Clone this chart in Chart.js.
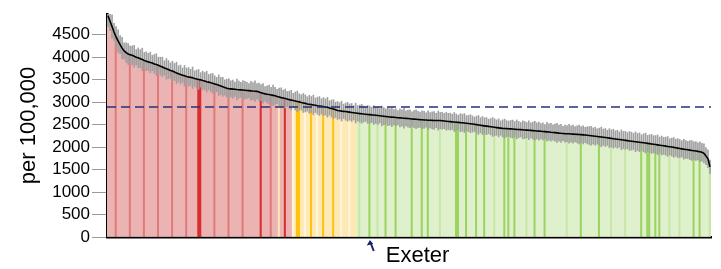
<!DOCTYPE html>
<html>
<head>
<meta charset="utf-8">
<script src="https://cdn.jsdelivr.net/npm/chart.js@4.4.0/dist/chart.umd.min.js"></script>
<style>
    body { margin: 0; background: #fff; }
</style>
</head>
<body>
<canvas id="taxas" width="721" height="269"></canvas>
<script>
// Taxas por 100.000, ordenadas da maior para a menor
const rates = [
    4920, 4800, 4680, 4560, 4450, 4360, 4280, 4200, 4140, 4100,
    4070, 4055, 4040, 4020, 4000, 3985, 3965, 3950, 3925, 3910,
    3895, 3880, 3870, 3850, 3835, 3820, 3800, 3780, 3760, 3740,
    3725, 3705, 3690, 3670, 3650, 3630, 3615, 3600, 3585, 3570,
    3560, 3550, 3540, 3525, 3515, 3505, 3495, 3480, 3470, 3455,
    3445, 3430, 3420, 3405, 3390, 3375, 3360, 3340, 3325, 3310,
    3300, 3295, 3290, 3285, 3280, 3276, 3272, 3268, 3264, 3260,
    3255, 3250, 3246, 3243, 3240, 3225, 3210, 3195, 3183, 3175,
    3170, 3160, 3150, 3140, 3125, 3112, 3100, 3090, 3080, 3068,
    3055, 3045, 3035, 3025, 3015, 3005, 2992, 2982, 2972, 2960,
    2952, 2945, 2937, 2930, 2920, 2913, 2906, 2900, 2893, 2885,
    2870, 2858, 2845, 2830, 2815, 2808, 2800, 2795, 2790, 2784,
    2778, 2770, 2763, 2757, 2751, 2745, 2740, 2735, 2731, 2726,
    2721, 2716, 2712, 2707, 2702, 2697, 2692, 2686, 2680, 2675,
    2670, 2666, 2662, 2658, 2654, 2650, 2646, 2642, 2638, 2634,
    2630, 2626, 2622, 2618, 2614, 2610, 2607, 2604, 2601, 2598,
    2596, 2594, 2592, 2591, 2590, 2590, 2586, 2580, 2575, 2570,
    2566, 2561, 2557, 2553, 2549, 2544, 2540, 2535, 2530, 2525,
    2520, 2513, 2506, 2499, 2492, 2485, 2478, 2472, 2466, 2460,
    2453, 2446, 2440, 2433, 2427, 2422, 2416, 2412, 2410, 2407,
    2404, 2401, 2398, 2394, 2391, 2388, 2384, 2380, 2377, 2374,
    2371, 2367, 2363, 2359, 2355, 2351, 2347, 2343, 2339, 2335,
    2330, 2326, 2322, 2316, 2310, 2306, 2303, 2300, 2298, 2295,
    2292, 2289, 2286, 2283, 2280, 2276, 2272, 2268, 2262, 2257,
    2252, 2247, 2241, 2236, 2231, 2225, 2219, 2213, 2206, 2199,
    2193, 2187, 2181, 2175, 2168, 2162, 2156, 2150, 2143, 2137,
    2131, 2125, 2119, 2113, 2107, 2101, 2095, 2089, 2082, 2076,
    2070, 2063, 2056, 2049, 2042, 2035, 2028, 2021, 2014, 2007,
    2000, 1993, 1985, 1977, 1968, 1960, 1953, 1946, 1939, 1932,
    1925, 1918, 1911, 1904, 1896, 1885, 1860, 1800, 1740, 1560
];

// Meia largura do intervalo de confiança de cada barra
const ciHalf = [
    240, 210, 260, 190, 230, 250, 200, 240, 180, 220,
    230, 190, 210, 240, 170, 220, 200, 250, 180, 210,
    190, 230, 170, 210, 240, 180, 200, 220, 160, 230,
    200, 170, 220, 190, 240, 180, 210, 160, 230, 190,
    210, 180, 240, 170, 200, 220, 160, 210, 190, 230,
    170, 200, 220, 180, 160, 230, 190, 210, 170, 200,
    220, 180, 200, 160, 230, 190, 170, 210, 200, 180,
    160, 210, 190, 230, 170, 200, 180, 220, 160, 190,
    210, 170, 230, 190, 160, 200, 220, 180, 210, 170,
    190, 220, 160, 200, 230, 180, 170, 210, 190, 160,
    200, 180, 220, 160, 190, 210, 170, 200, 180, 220,
    160, 190, 210, 170, 200, 180, 220, 160, 190, 210,
    180, 200, 160, 220, 170, 190, 210, 180, 160, 200,
    190, 170, 210, 180, 200, 160, 220, 190, 170, 200,
    180, 210, 170, 190, 160, 200, 180, 220, 170, 190,
    200, 160, 190, 210, 180, 170, 200, 190, 160, 210,
    170, 190, 200, 160, 210, 180, 190, 170, 200, 180,
    190, 170, 210, 180, 160, 200, 190, 210, 170, 180,
    200, 180, 160, 190, 210, 170, 200, 180, 190, 160,
    180, 210, 190, 170, 200, 160, 190, 210, 180, 170,
    190, 200, 170, 210, 180, 160, 200, 190, 170, 210,
    170, 190, 210, 180, 200, 170, 190, 160, 210, 180,
    200, 170, 190, 210, 180, 200, 160, 190, 180, 210,
    180, 200, 170, 190, 210, 180, 200, 170, 190, 200,
    210, 180, 200, 170, 190, 220, 180, 200, 170, 210,
    190, 210, 180, 200, 170, 220, 190, 200, 180, 210,
    200, 180, 220, 190, 210, 170, 200, 220, 180, 200,
    210, 190, 200, 220, 180, 210, 190, 200, 220, 180,
    200, 220, 190, 210, 200, 180, 220, 200, 190, 210,
    220, 200, 210, 190, 220, 200, 210, 190, 200, 150
];

const englandRate = 2890;     // linha tracejada
const exeterIndex = 130;
const exeterName = 'Exeter';
const yTicks = [0, 500, 1000, 1500, 2000, 2500, 3000, 3500, 4000, 4500];

// Grupos de cor (vermelho / amarelo / verde) pela posição
const amberStart = 92;
const greenStart = 124;
const amberInRed = [85];
const darkBars = [45, 46, 76, 88, 94, 95, 101, 107, 112, 130, 138, 143, 151, 156, 159,
    173, 174, 178, 183, 187, 197, 199, 202, 212, 217, 235, 244, 265, 268, 269, 272, 274, 291, 294];
const midBars = [4, 11, 18, 25, 32, 39, 53, 60, 67, 81, 125, 134, 165, 192, 208, 228, 250, 257, 279, 284, 299];
const paleBars = [92, 98, 104, 116, 120];

const labels = rates.map((v, i) => i === exeterIndex ? exeterName : 'Area ' + (i + 1));

const cores = {
    red:   { light: '#ecb3b3', mid: '#e07a7a', dark: '#da2c2c', pale: '#f3cccc' },
    amber: { light: '#fee9b4', mid: '#fddc8a', dark: '#ffc20e', pale: '#fff5dc' },
    green: { light: '#dff0cc', mid: '#c8e6a6', dark: '#9ad45f', pale: '#e9f5dc' }
};

function corDaBarra(i) {
    let grupo = i < amberStart ? 'red' : (i < greenStart ? 'amber' : 'green');
    if (amberInRed.includes(i)) grupo = 'amber';
    let tom = 'light';
    if (darkBars.includes(i)) tom = 'dark';
    else if (midBars.includes(i)) tom = 'mid';
    else if (paleBars.includes(i)) tom = 'pale';
    return cores[grupo][tom];
}

document.addEventListener('DOMContentLoaded', function() {
    const canvas = document.getElementById('taxas');
    Chart.defaults.font.family = '"Liberation Sans", Arial, sans-serif';

    const data = {
        labels: labels,
        datasets: [
            {
                type: 'line',
                data: rates,
                borderColor: '#000',
                borderWidth: 1.6,
                pointRadius: 0,
                order: 0
            },
            {
                type: 'bar',
                data: rates.map((v, i) => [v - ciHalf[i], v + ciHalf[i]]),
                backgroundColor: '#a0a0a0',
                barThickness: 1,
                grouped: false,
                order: 1
            },
            {
                type: 'bar',
                data: rates,
                backgroundColor: rates.map((v, i) => corDaBarra(i)),
                borderWidth: 0,
                barPercentage: 1,
                categoryPercentage: 1,
                grouped: false,
                order: 2
            }
        ]
    };

    // Linha de referência, seta e nome de Exeter
    const extras = {
        id: 'extras',
        afterDatasetsDraw(chart) {
            const { ctx, chartArea, scales } = chart;
            const yy = scales.y.getPixelForValue(englandRate);
            ctx.save();
            ctx.strokeStyle = '#26307c';
            ctx.lineWidth = 1.5;
            ctx.setLineDash([9, 5]);
            ctx.beginPath();
            ctx.moveTo(chartArea.left, yy);
            ctx.lineTo(chartArea.right, yy);
            ctx.stroke();
            ctx.restore();
        },
        afterDraw(chart) {
            const { ctx, chartArea, scales } = chart;
            const x = scales.x.getPixelForValue(exeterIndex);
            const top = chartArea.bottom + 3;
            ctx.save();
            ctx.strokeStyle = '#1a2070';
            ctx.fillStyle = '#1a2070';
            ctx.lineWidth = 2;
            ctx.beginPath();
            ctx.moveTo(x + 4, top + 11);
            ctx.lineTo(x + 1, top + 3);
            ctx.stroke();
            ctx.beginPath();
            ctx.moveTo(x + 0.2, top);
            ctx.lineTo(x - 3, top + 5.5);
            ctx.lineTo(x + 3.5, top + 4);
            ctx.closePath();
            ctx.fill();
            ctx.fillStyle = '#000';
            ctx.font = '22px "Liberation Sans", Arial, sans-serif';
            ctx.textBaseline = 'alphabetic';
            ctx.fillText(exeterName, x + 16, top + 22);
            ctx.restore();
        }
    };

    const options = {
        responsive: false,
        animation: false,
        devicePixelRatio: 1,
        layout: { padding: { top: 14, right: 10, left: 0, bottom: 0 } },
        plugins: {
            legend: { display: false },
            tooltip: { enabled: false }
        },
        scales: {
            x: {
                ticks: { display: false },
                grid: { display: false },
                border: { color: '#000', width: 2.5 },
                afterFit: function(scale) { scale.height = 32; }
            },
            y: {
                min: 0,
                max: 4960,
                ticks: {
                    color: '#000',
                    padding: 2,
                    autoSkip: false,
                    font: { size: 17 },
                    callback: function(value) { return String(value); }
                },
                grid: {
                    drawOnChartArea: false,
                    tickLength: 15,
                    color: '#9a9a9a'
                },
                border: { color: '#000', width: 2.5 },
                title: {
                    display: true,
                    text: 'per 100,000',
                    color: '#000',
                    font: { size: 22 },
                    padding: { top: 16, bottom: 0 }
                },
                afterBuildTicks: function(scale) {
                    scale.ticks = yTicks.map(v => ({ value: v }));
                },
                afterFit: function(scale) { scale.width = 107; }
            }
        }
    };

    new Chart(canvas.getContext('2d'), {
        type: 'bar',
        data: data,
        options: options,
        plugins: [extras]
    });
});
</script>
</body>
</html>
